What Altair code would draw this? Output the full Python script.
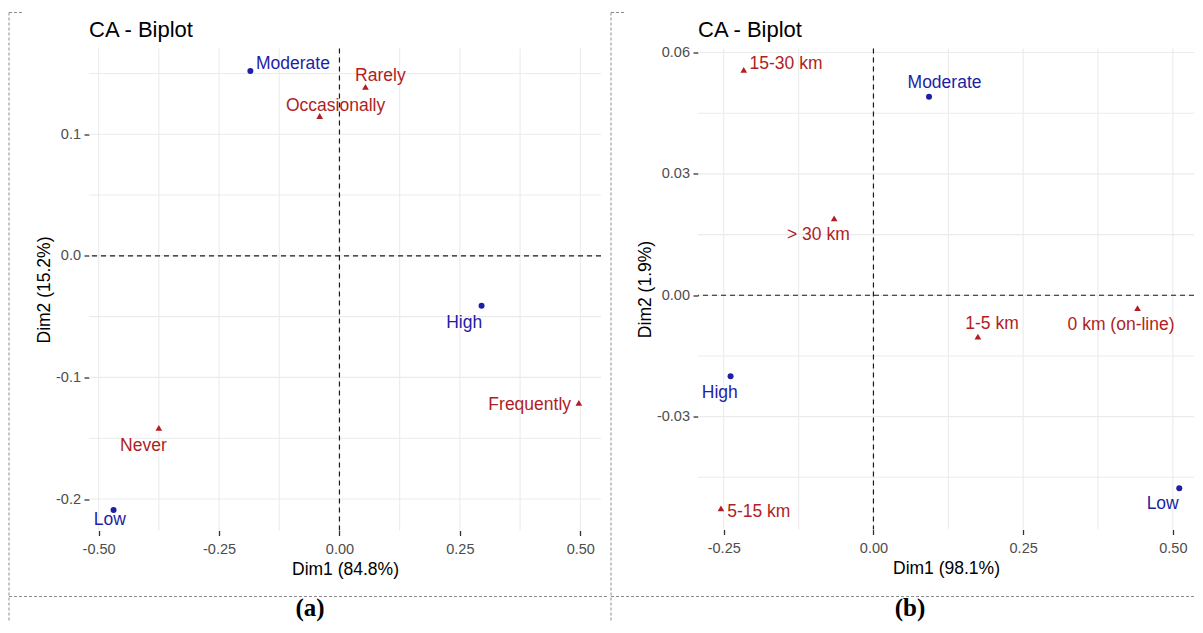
import altair as alt
import pandas as pd

# ---------------- data: panel (a) ----------------
a_row_names = ["Moderate", "High", "Low"]
a_row_x = [-0.185, 0.295, -0.469]
a_row_y = [0.152, -0.041, -0.209]
a_row_lx = [-0.0965, 0.259, -0.477]
a_row_ly = [0.158, -0.0549, -0.217]

a_col_names = ["Rarely", "Occasionally", "Frequently", "Never"]
a_col_x = [0.054, -0.041, 0.497, -0.375]
a_col_y = [0.139, 0.115, -0.121, -0.1415]
a_col_lx = [0.085, -0.008, 0.395, -0.407]
a_col_ly = [0.148, 0.1236, -0.123, -0.156]

a_xticks = [-0.5, -0.25, 0.0, 0.25, 0.5]
a_yticks = [-0.2, -0.1, 0.0, 0.1]
a_xgrid = [-0.5, -0.375, -0.25, -0.125, 0.0, 0.125, 0.25, 0.375, 0.5]
a_ygrid = [-0.2, -0.15, -0.1, -0.05, 0.0, 0.05, 0.1, 0.15]
a_xdomain = [-0.520, 0.543]
a_ydomain = [-0.2259, 0.1705]

# ---------------- data: panel (b) ----------------
b_row_names = ["Moderate", "High", "Low"]
b_row_x = [0.0928, -0.2386, 0.5107]
b_row_y = [0.0491, -0.0200, -0.0477]
b_row_lx = [0.1187, -0.2567, 0.483]
b_row_ly = [0.0525, -0.0242, -0.0516]

b_col_names = ["15-30 km", "> 30 km", "0 km (on-line)", "1-5 km", "5-15 km"]
b_col_x = [-0.2166, -0.0656, 0.441, 0.1744, -0.2547]
b_col_y = [0.0557, 0.0190, -0.0032, -0.0102, -0.0527]
b_col_lx = [-0.146, -0.092, 0.4135, 0.198, -0.1915]
b_col_ly = [0.0572, 0.0149, -0.0073, -0.0071, -0.0536]

b_xticks = [-0.25, 0.0, 0.25, 0.5]
b_yticks = [-0.03, 0.0, 0.03, 0.06]
b_xgrid = [-0.25, -0.125, 0.0, 0.125, 0.25, 0.375, 0.5]
b_ygrid = [-0.045, -0.03, -0.015, 0.0, 0.015, 0.03, 0.045, 0.06]
b_xdomain = [-0.293, 0.5353]
b_ydomain = [-0.0579, 0.061]

FONT = "Liberation Sans"
BLUE = "#1E1EA6"
RED = "#B01E24"
BORDER = "#8C8C8C"


def panel(rows, cols, xdom, ydom, xgrid, ygrid, xticks, yticks, xfmt, yfmt,
          xtitle, ytitle, caption, W, H, left, right, ytitle_x, cap_x):
    xs = alt.Scale(domain=xdom, nice=False, zero=False)
    ys = alt.Scale(domain=ydom, nice=False, zero=False)
    common = dict(grid=False, domain=False, tickColor="#333333", tickWidth=1.3,
                  tickSize=5, labelColor="#4D4D4D", labelFont=FONT,
                  labelFontSize=14.5, titleFont=FONT, titleFontSize=17.5,
                  titleFontWeight="normal", titleColor="#000000")
    xaxis = alt.Axis(values=xticks, title=xtitle,
                     labelExpr="replace(format(datum.value, '%s'), '\u2212', '-')" % xfmt,
                     labelPadding=6.5, titleY=44, titleBaseline="alphabetic", **common)
    yaxis = alt.Axis(values=yticks, title=ytitle,
                     labelExpr="replace(format(datum.value, '%s'), '\u2212', '-')" % yfmt,
                     labelPadding=3.5, titleX=ytitle_x, titleBaseline="alphabetic", **common)

    def X(f):
        return alt.X(f"{f}:Q", scale=xs, axis=xaxis)

    def Y(f):
        return alt.Y(f"{f}:Q", scale=ys, axis=yaxis)

    grid_v = alt.Chart(pd.DataFrame({"x": xgrid})).mark_rule(
        color="#EBEBEB", strokeWidth=1.1).encode(x=X("x"))
    grid_h = alt.Chart(pd.DataFrame({"y": ygrid})).mark_rule(
        color="#EBEBEB", strokeWidth=1.1).encode(y=Y("y"))
    zero_v = alt.Chart(pd.DataFrame({"x": [0.0]})).mark_rule(
        color="#1A1A1A", strokeWidth=1.2, strokeDash=[5, 4]).encode(x=X("x"))
    zero_h = alt.Chart(pd.DataFrame({"y": [0.0]})).mark_rule(
        color="#1A1A1A", strokeWidth=1.2, strokeDash=[5, 4]).encode(y=Y("y"))

    rdf = pd.DataFrame(rows)
    cdf = pd.DataFrame(cols)
    row_pts = alt.Chart(rdf).mark_point(shape="circle", filled=True, size=36,
                                        color=BLUE, opacity=1).encode(x=X("x"), y=Y("y"))
    col_pts = alt.Chart(cdf).mark_point(shape="triangle-up", filled=True, size=45,
                                        color=RED, opacity=1).encode(x=X("x"), y=Y("y"))
    row_lab = alt.Chart(rdf).mark_text(font=FONT, fontSize=17.5, color=BLUE,
                                       align="center", baseline="middle").encode(
        x=X("lx"), y=Y("ly"), text="name:N")
    col_lab = alt.Chart(cdf).mark_text(font=FONT, fontSize=17.5, color=RED,
                                       align="center", baseline="middle").encode(
        x=X("lx"), y=Y("ly"), text="name:N")

    one = pd.DataFrame({"k": [0]})
    dash = dict(color=BORDER, strokeWidth=1, strokeDash=[3, 2])
    vline = alt.Chart(one).mark_rule(**dash).encode(
        x=alt.value(left), y=alt.value(-36), y2=alt.value(572))
    tseg = alt.Chart(one).mark_rule(**dash).encode(
        x=alt.value(left), x2=alt.value(left + 14), y=alt.value(-36))
    hline = alt.Chart(one).mark_rule(**dash).encode(
        x=alt.value(left), x2=alt.value(right), y=alt.value(548))
    title = alt.Chart(one).mark_text(font=FONT, fontSize=22, color="#000000",
                                     align="left", baseline="alphabetic").encode(
        x=alt.value(0), y=alt.value(-12), text=alt.value("CA - Biplot"))
    cap = alt.Chart(one).mark_text(font="Liberation Serif", fontWeight="bold",
                                   fontSize=25, color="#000000", align="center",
                                   baseline="alphabetic").encode(
        x=alt.value(cap_x), y=alt.value(567), text=alt.value(caption))

    return alt.layer(grid_v, grid_h, zero_v, zero_h, row_pts, col_pts, row_lab,
                     col_lab, vline, tseg, hline, title, cap).properties(width=W, height=H)


pa = panel(
    {"name": a_row_names, "x": a_row_x, "y": a_row_y, "lx": a_row_lx, "ly": a_row_ly},
    {"name": a_col_names, "x": a_col_x, "y": a_col_y, "lx": a_col_lx, "ly": a_col_ly},
    a_xdomain, a_ydomain, a_xgrid, a_ygrid, a_xticks, a_yticks, ".2f", ".1f",
    "Dim1 (84.8%)", "Dim2 (15.2%)", "(a)", 512, 482, -80, 520, -40, 221)

pb = panel(
    {"name": b_row_names, "x": b_row_x, "y": b_row_y, "lx": b_row_lx, "ly": b_row_ly},
    {"name": b_col_names, "x": b_col_x, "y": b_col_y, "lx": b_col_lx, "ly": b_col_ly},
    b_xdomain, b_ydomain, b_xgrid, b_ygrid, b_xticks, b_yticks, ".2f", ".2f",
    "Dim1 (98.1%)", "Dim2 (1.9%)", "(b)", 496, 481, -87, 496, -48, 212)

chart = alt.hconcat(pa, pb, spacing=0).properties(
    padding={"left": 0, "top": 3.5, "right": 0, "bottom": 0}
).configure_view(stroke=None)

chart.save("out.html", embed_options={"renderer": "svg", "actions": False})
